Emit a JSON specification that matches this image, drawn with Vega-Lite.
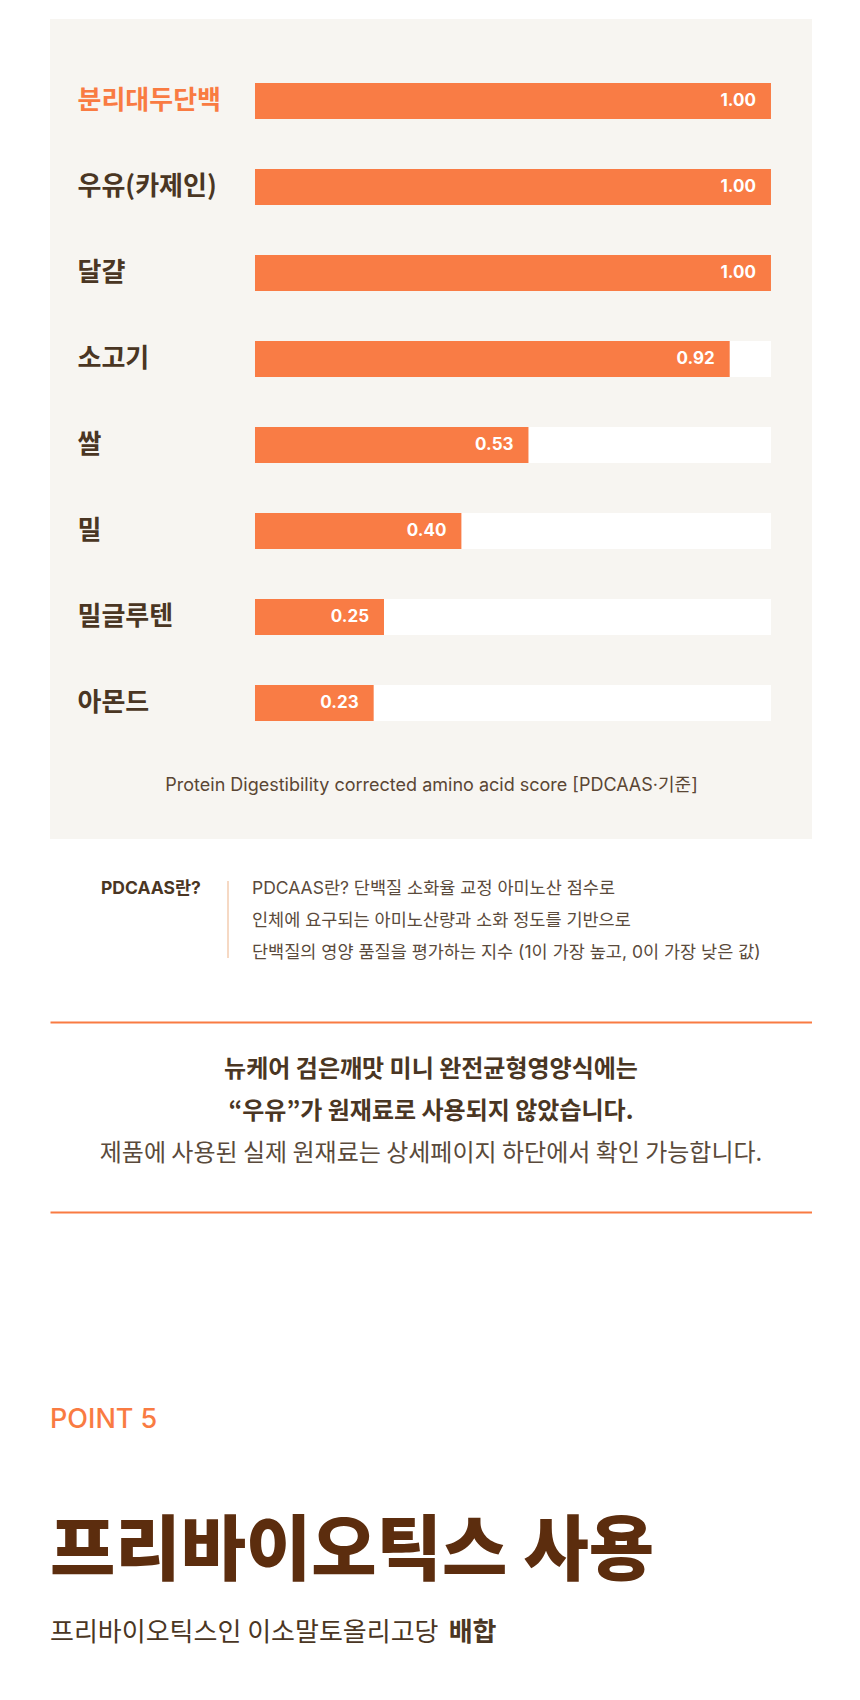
{
  "$schema": "https://vega.github.io/schema/vega-lite/v6.json",
  "background": "#FFFFFF",
  "padding": {"left": 50, "top": 19, "right": 0, "bottom": 0},
  "spacing": 0,
  "bounds": "flush",
  "config": {
    "view": {"stroke": null},
    "axis": {"grid": false},
    "font": "Noto Sans CJK KR",
    "text": {"font": "Noto Sans CJK KR"}
  },
  "datasets": {
    "scores": [
      {"food": "분리대두단백", "score": 1.00},
      {"food": "우유(카제인)", "score": 1.00},
      {"food": "달걀", "score": 1.00},
      {"food": "소고기", "score": 0.92},
      {"food": "쌀", "score": 0.53},
      {"food": "밀", "score": 0.40},
      {"food": "밀글루텐", "score": 0.25},
      {"food": "아몬드", "score": 0.23}
    ],
    "pdcaas": [
      {"col": "term", "line": 1, "text": "PDCAAS란?"},
      {"col": "desc", "line": 1, "text": "PDCAAS란? 단백질 소화율 교정 아미노산 점수로"},
      {"col": "desc", "line": 2, "text": "인체에 요구되는 아미노산량과 소화 정도를 기반으로"},
      {"col": "desc", "line": 3, "text": "단백질의 영양 품질을 평가하는 지수 (1이 가장 높고, 0이 가장 낮은 값)"}
    ],
    "message": [
      {"line": 1, "text": "뉴케어 검은깨맛 미니 완전균형영양식에는"},
      {"line": 2, "text": "“우유”가 원재료로 사용되지 않았습니다."},
      {"line": 3, "text": "제품에 사용된 실제 원재료는 상세페이지 하단에서 확인 가능합니다."}
    ],
    "point": [
      {"part": "kicker", "text": "POINT 5"},
      {"part": "title", "text": "프리바이오틱스 사용"},
      {"part": "sub", "text": "프리바이오틱스인 이소말토올리고당"},
      {"part": "subBold", "text": "배합"}
    ]
  },
  "vconcat": [
    {
      "width": 762,
      "height": 820,
      "view": {"fill": "#F7F5F1", "stroke": null},
      "data": {"name": "scores"},
      "encoding": {
        "y": {
          "field": "food",
          "type": "nominal",
          "sort": null,
          "scale": {"type": "band", "range": [64, 702], "paddingInner": 0.5814, "paddingOuter": 0},
          "axis": {
            "title": null,
            "domain": false,
            "ticks": false,
            "tickSize": 0,
            "labelPadding": -27,
            "labelAlign": "left",
            "labelBaseline": "middle",
            "labelFont": "Noto Sans CJK KR",
            "labelFontSize": 26,
            "labelFontWeight": "bold",
            "labelLimit": 400,
            "labelColor": {"condition": {"test": "datum.value === '분리대두단백'", "value": "#F97B42"}, "value": "#4A3623"}
          }
        }
      },
      "layer": [
        {
          "mark": {"type": "bar", "color": "#FFFFFF"},
          "encoding": {
            "x": {
              "datum": 1,
              "type": "quantitative",
              "scale": {"domain": [-0.3973, 1.0795], "nice": false, "zero": false},
              "axis": {"orient": "bottom", "domain": false, "ticks": false, "labels": false, "grid": false, "title": "Protein Digestibility corrected amino acid score [PDCAAS·기준]", "titleFont": "Inter, Noto Sans CJK KR", "titleFontSize": 18, "titleFontWeight": "normal", "titleColor": "#5A4634", "titleY": -54, "titleBaseline": "middle"}
            },
            "x2": {"datum": 0}
          }
        },
        {
          "mark": {"type": "bar", "color": "#F97C45"},
          "encoding": {
            "x": {
              "field": "score",
              "type": "quantitative",
              "scale": {"domain": [-0.3973, 1.0795], "nice": false, "zero": false},
              "axis": {"orient": "bottom", "domain": false, "ticks": false, "labels": false, "grid": false, "title": "Protein Digestibility corrected amino acid score [PDCAAS·기준]", "titleFont": "Inter, Noto Sans CJK KR", "titleFontSize": 18, "titleFontWeight": "normal", "titleColor": "#5A4634", "titleY": -54, "titleBaseline": "middle"}
            },
            "x2": {"datum": 0}
          }
        },
        {
          "mark": {"type": "text", "align": "right", "baseline": "middle", "dx": -15, "color": "#FFFFFF", "font": "Inter", "fontSize": 17, "fontWeight": "bold"},
          "encoding": {
            "x": {
              "field": "score",
              "type": "quantitative",
              "scale": {"domain": [-0.3973, 1.0795], "nice": false, "zero": false},
              "axis": {"orient": "bottom", "domain": false, "ticks": false, "labels": false, "grid": false, "title": "Protein Digestibility corrected amino acid score [PDCAAS·기준]", "titleFont": "Inter, Noto Sans CJK KR", "titleFontSize": 18, "titleFontWeight": "normal", "titleColor": "#5A4634", "titleY": -54, "titleBaseline": "middle"}
            },
            "text": {"field": "score", "type": "quantitative", "format": ".2f"}
          }
        }
      ]
    },
    {
      "width": 762,
      "height": 183,
      "data": {"name": "pdcaas"},
      "encoding": {
        "x": {
          "field": "col",
          "type": "nominal",
          "scale": {"type": "point", "domain": ["term", "desc"], "range": [51, 202], "padding": 0},
          "axis": null
        },
        "y": {
          "field": "line",
          "type": "ordinal",
          "scale": {"type": "point", "domain": [1, 2, 3], "range": [50, 114], "padding": 0},
          "axis": null
        }
      },
      "layer": [
        {
          "transform": [{"filter": "datum.col === 'term'"}],
          "mark": {"type": "text", "align": "left", "baseline": "middle", "font": "Inter, Noto Sans CJK KR", "fontSize": 17.5, "fontWeight": "bold", "color": "#4A3623"},
          "encoding": {"text": {"field": "text"}}
        },
        {
          "transform": [{"filter": "datum.col === 'desc'"}],
          "mark": {"type": "text", "align": "left", "baseline": "middle", "font": "Inter, Noto Sans CJK KR", "fontSize": 17.5, "color": "#5A4A3B"},
          "encoding": {"text": {"field": "text"}}
        },
        {
          "transform": [
            {"filter": "datum.col === 'desc'"},
            {"aggregate": [{"op": "min", "field": "line", "as": "first"}, {"op": "max", "field": "line", "as": "last"}], "groupby": ["col"]}
          ],
          "mark": {"type": "rule", "color": "#F3CDB0", "strokeWidth": 1.5, "xOffset": -24, "yOffset": -8, "y2Offset": 5},
          "encoding": {
            "y": {"field": "first", "type": "ordinal"},
            "y2": {"field": "last"}
          }
        }
      ]
    },
    {
      "width": 762,
      "height": 190,
      "data": {"name": "message"},
      "encoding": {
        "y": {
          "field": "line",
          "type": "ordinal",
          "scale": {"type": "point", "domain": [1, 2, 3], "range": [48, 132], "padding": 0},
          "axis": null
        },
        "text": {"field": "text"}
      },
      "resolve": {"scale": {"x": "independent"}, "axis": {"x": "independent"}},
      "layer": [
        {
          "transform": [{"filter": "datum.line < 3"}],
          "mark": {"type": "text", "align": "center", "baseline": "middle", "fontSize": 24, "fontWeight": "bold", "color": "#4A3623"},
          "encoding": {
            "x": {
              "datum": 0.5,
              "type": "quantitative",
              "scale": {"domain": [0, 1]},
              "axis": {"orient": "top", "title": null, "labels": false, "ticks": false, "domain": true, "domainColor": "#F97B42", "domainWidth": 2, "grid": false}
            }
          }
        },
        {
          "transform": [{"filter": "datum.line === 3"}],
          "mark": {"type": "text", "align": "center", "baseline": "middle", "fontSize": 24, "color": "#5A4A3B"},
          "encoding": {
            "x": {
              "datum": 0.5,
              "type": "quantitative",
              "scale": {"domain": [0, 1]},
              "axis": {"orient": "bottom", "title": null, "labels": false, "ticks": false, "domain": true, "domainColor": "#F97B42", "domainWidth": 2, "grid": false}
            }
          }
        }
      ]
    },
    {
      "width": 762,
      "height": 488,
      "data": {"name": "point"},
      "resolve": {"scale": {"x": "independent", "y": "independent"}},
      "layer": [
        {
          "transform": [{"filter": "datum.part === 'kicker'"}],
          "mark": {"type": "text", "align": "left", "baseline": "middle", "font": "Inter", "fontSize": 27, "fontWeight": 500, "color": "#F97B42"},
          "encoding": {
            "x": {"field": "part", "type": "nominal", "scale": {"type": "point", "align": 0}, "axis": null},
            "y": {"field": "part", "type": "nominal", "scale": {"type": "point", "align": 0.4262}, "axis": null},
            "text": {"field": "text"}
          }
        },
        {
          "transform": [{"filter": "datum.part === 'title'"}],
          "mark": {"type": "text", "align": "left", "baseline": "middle", "fontSize": 71, "fontWeight": 900, "color": "#5C2D0E"},
          "encoding": {
            "x": {"field": "part", "type": "nominal", "scale": {"type": "point", "align": 0}, "axis": null},
            "y": {"field": "part", "type": "nominal", "scale": {"type": "point", "align": 0.699}, "axis": null},
            "text": {"field": "text"}
          }
        },
        {
          "transform": [{"filter": "datum.part === 'sub'"}],
          "mark": {"type": "text", "align": "left", "baseline": "middle", "fontSize": 26, "color": "#4A3623"},
          "encoding": {
            "x": {"field": "part", "type": "nominal", "scale": {"type": "point", "align": 0}, "axis": null},
            "y": {"field": "part", "type": "nominal", "scale": {"type": "point", "align": 0.8627}, "axis": null},
            "text": {"field": "text"}
          }
        },
        {
          "transform": [{"filter": "datum.part === 'subBold'"}],
          "mark": {"type": "text", "align": "left", "baseline": "middle", "fontSize": 26, "fontWeight": "bold", "color": "#4A3623"},
          "encoding": {
            "x": {"field": "part", "type": "nominal", "scale": {"type": "point", "align": 0.5232}, "axis": null},
            "y": {"field": "part", "type": "nominal", "scale": {"type": "point", "align": 0.8627}, "axis": null},
            "text": {"field": "text"}
          }
        }
      ]
    }
  ]
}
